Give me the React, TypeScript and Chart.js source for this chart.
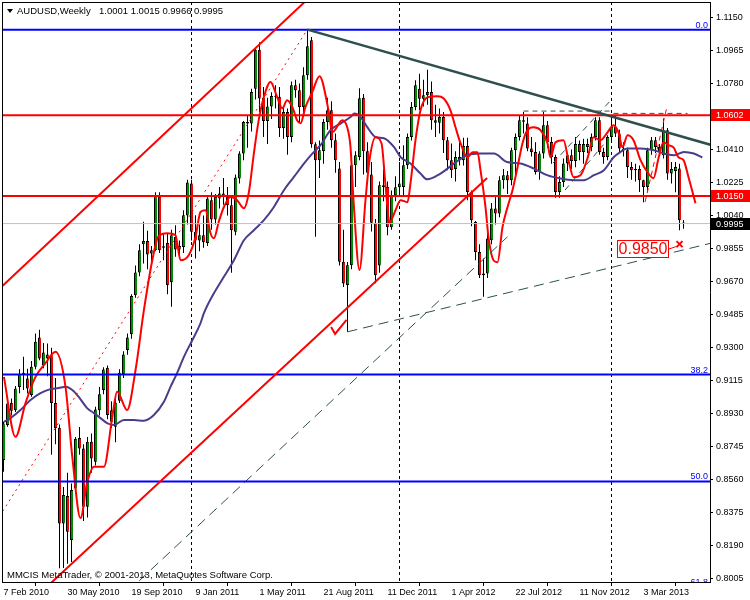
import React, { useEffect, useRef } from "react";
import { Chart, registerables } from "chart.js";

Chart.register(...registerables);

const FONT = "'Liberation Sans', Arial, Helvetica, sans-serif";

const symbolName = "AUDUSD,Weekly";
const copyrightText = "MMCIS MetaTrader, \u00A9 2001-2013, MetaQuotes Software Corp.";

// x axis: week index (0 = week of 7 Feb 2010)
const xTickWeeks = [0, 16, 32, 48, 64, 80, 96, 112, 128, 144, 160];
const xTickLabels = ["7 Feb 2010", "30 May 2010", "19 Sep 2010", "9 Jan 2011", "1 May 2011", "21 Aug 2011", "11 Dec 2011", "1 Apr 2012", "22 Jul 2012", "11 Nov 2012", "3 Mar 2013"];
const yTickValues = [0.8005, 0.8190, 0.8375, 0.8560, 0.8745, 0.8930, 0.9115, 0.9300, 0.9485, 0.9670, 0.9855, 1.0040, 1.0225, 1.0410, 1.0595, 1.0780, 1.0965, 1.1150];
const yearSeparatorWeeks = [47, 99, 152];

const X_MIN = -0.375;
const X_MAX = 176.625;
const Y_MIN = 0.79882;
const Y_MAX = 1.12357;

// weekly candles
const opens = [
  0.8671,0.8867,0.8992,0.8950,0.9080,0.9160,0.9128,0.9035,0.9193,0.9357,
  0.9203,0.9262,0.9258,0.8990,0.8852,0.8316,0.8470,0.8223,0.8512,0.8795,
  0.8736,0.8410,0.8773,0.8662,0.8950,0.9063,0.9188,0.8950,0.8857,0.9003,
  0.9152,0.9287,0.9376,0.9594,0.9721,0.9880,0.9897,0.9827,0.9846,1.0145,
  0.9868,0.9887,0.9667,0.9920,0.9850,0.9864,1.0040,1.0219,0.9949,0.9900,
  0.9930,0.9887,1.0126,1.0018,1.0135,1.0163,1.0144,1.0098,0.9949,1.0247,
  1.0387,1.0564,1.0555,1.0750,1.0969,1.0700,1.0570,1.0650,1.0710,1.0705,
  1.0530,1.0620,1.0480,1.0769,1.0741,1.0648,1.0825,1.1021,1.0439,1.0350,
  1.0402,1.0564,1.0630,1.0462,1.0303,0.9781,0.9651,0.9762,1.0322,1.0368,
  1.0700,1.0400,1.0270,0.9997,0.9760,1.0210,1.0200,0.9975,1.0153,1.0199,
  1.0200,1.0321,1.0480,1.0648,1.0750,1.0694,1.0713,1.0732,1.0573,1.0560,
  1.0592,1.0461,1.0349,1.0300,1.0368,1.0350,1.0430,1.0172,1.0004,0.9836,
  0.9706,0.9715,0.9902,1.0079,1.0051,1.0237,1.0265,1.0237,1.0405,1.0480,
  1.0573,1.0555,1.0415,1.0396,1.0284,1.0387,1.0545,1.0452,1.0368,1.0172,
  1.0228,1.0331,1.0377,1.0345,1.0440,1.0396,1.0440,1.0424,1.0480,1.0573,
  1.0396,1.0368,1.0480,1.0536,1.0499,1.0415,1.0405,1.0312,1.0293,1.0300,
  1.0237,1.0200,1.0405,1.0461,1.0424,1.0377,1.0517,1.0275,1.0290,1.0303,
  1.0001
];
const highs = [
  0.8885,0.9006,0.9016,0.9085,0.9180,0.9249,0.9182,0.9225,0.9380,0.9400,
  0.9326,0.9324,0.9300,0.9130,0.8870,0.8520,0.8600,0.8540,0.8800,0.8856,
  0.8760,0.8800,0.8820,0.8970,0.9080,0.9190,0.9200,0.9000,0.9020,0.9180,
  0.9280,0.9380,0.9600,0.9760,0.9880,1.0005,0.9955,0.9870,1.0170,1.0170,
  0.9940,0.9940,0.9960,0.9985,0.9900,1.0070,1.0240,1.0240,1.0042,0.9990,
  1.0040,1.0150,1.0170,1.0160,1.0200,1.0250,1.0200,1.0140,1.0270,1.0400,
  1.0570,1.0600,1.0750,1.0975,1.1010,1.0760,1.0700,1.0730,1.0770,1.0760,
  1.0650,1.0640,1.0790,1.0800,1.0780,1.0870,1.1077,1.1040,1.0450,1.0460,
  1.0580,1.0700,1.0680,1.0500,1.0340,0.9960,0.9780,1.0340,1.0400,1.0753,
  1.0720,1.0450,1.0340,1.0020,1.0230,1.0300,1.0230,1.0180,1.0260,1.0340,
  1.0433,1.0500,1.0676,1.0797,1.0834,1.0800,1.0856,1.0790,1.0660,1.0640,
  1.0620,1.0480,1.0443,1.0400,1.0470,1.0475,1.0475,1.0180,1.0010,0.9880,
  0.9800,0.9940,1.0110,1.0150,1.0260,1.0300,1.0290,1.0420,1.0500,1.0600,
  1.0620,1.0590,1.0480,1.0450,1.0400,1.0620,1.0570,1.0480,1.0380,1.0260,
  1.0360,1.0390,1.0410,1.0480,1.0460,1.0470,1.0470,1.0500,1.0590,1.0590,
  1.0420,1.0490,1.0605,1.0600,1.0520,1.0450,1.0420,1.0340,1.0330,1.0320,
  1.0240,1.0420,1.0480,1.0480,1.0440,1.0583,1.0530,1.0340,1.0340,1.0330,
  1.0015
];
const lows = [
  0.8606,0.8857,0.8920,0.8940,0.9045,0.9063,0.9044,0.9025,0.9180,0.9230,
  0.9185,0.9140,0.8700,0.8760,0.8065,0.8067,0.8090,0.8100,0.8480,0.8700,
  0.8330,0.8350,0.8600,0.8640,0.8920,0.9040,0.8900,0.8850,0.8770,0.8990,
  0.9130,0.9260,0.9350,0.9580,0.9700,0.9772,0.9740,0.9760,0.9840,0.9830,
  0.9790,0.9600,0.9530,0.9810,0.9800,0.9830,0.9990,0.9900,0.9800,0.9840,
  0.9860,0.9870,0.9960,0.9990,1.0080,1.0100,1.0040,0.9720,0.9930,1.0220,
  1.0350,1.0420,1.0510,1.0690,1.0620,1.0480,1.0440,1.0580,1.0640,1.0480,
  1.0470,1.0380,1.0450,1.0700,1.0560,1.0600,1.0800,1.0420,0.9921,1.0250,
  1.0330,1.0520,1.0420,1.0280,0.9760,0.9640,0.9389,0.9740,1.0200,1.0350,
  1.0270,1.0240,0.9950,0.9661,0.9720,1.0120,0.9930,0.9960,1.0120,1.0150,
  1.0144,1.0300,1.0460,1.0630,1.0630,1.0650,1.0660,1.0520,1.0480,1.0500,
  1.0390,1.0293,1.0250,1.0230,1.0320,1.0320,1.0125,0.9980,0.9790,0.9690,
  0.9585,0.9690,0.9880,0.9990,1.0030,1.0190,1.0160,1.0210,1.0260,1.0460,
  1.0500,1.0400,1.0370,1.0270,1.0240,1.0360,1.0420,1.0330,1.0140,1.0140,
  1.0200,1.0290,1.0300,1.0310,1.0350,1.0330,1.0390,1.0400,1.0460,1.0380,
  1.0330,1.0350,1.0460,1.0480,1.0390,1.0370,1.0250,1.0240,1.0230,1.0172,
  1.0115,1.0180,1.0380,1.0390,1.0370,1.0360,1.0240,1.0220,1.0170,0.9958,
  0.9966
];
const closes = [
  0.8876,0.8988,0.8947,0.9072,0.9152,0.9150,0.9072,0.9193,0.9333,0.9240,
  0.9273,0.9240,0.8990,0.8850,0.8316,0.8475,0.8270,0.8503,0.8790,0.8736,
  0.8410,0.8773,0.8680,0.8954,0.9040,0.9178,0.8923,0.8885,0.8992,0.9160,
  0.9262,0.9357,0.9589,0.9721,0.9846,0.9898,0.9822,0.9846,1.0154,0.9846,
  0.9860,0.9650,0.9930,0.9850,0.9870,1.0042,1.0225,0.9949,0.9900,0.9930,
  0.9890,1.0135,1.0018,1.0144,1.0163,1.0144,1.0098,0.9958,1.0253,1.0387,
  1.0564,1.0555,1.0732,1.0969,1.0695,1.0570,1.0650,1.0710,1.0705,1.0530,
  1.0620,1.0480,1.0769,1.0741,1.0648,1.0825,1.0988,1.0439,1.0350,1.0406,
  1.0564,1.0630,1.0462,1.0350,0.9781,0.9660,0.9762,1.0322,1.0378,1.0697,
  1.0400,1.0280,1.0000,0.9706,1.0210,1.0200,0.9975,1.0153,1.0199,1.0220,
  1.0321,1.0480,1.0648,1.0769,1.0694,1.0713,1.0732,1.0573,1.0560,1.0592,
  1.0461,1.0349,1.0293,1.0368,1.0350,1.0430,1.0172,1.0014,0.9836,0.9706,
  0.9715,0.9911,1.0079,1.0051,1.0237,1.0265,1.0237,1.0405,1.0480,1.0573,
  1.0565,1.0415,1.0396,1.0284,1.0387,1.0545,1.0452,1.0368,1.0172,1.0228,
  1.0331,1.0377,1.0345,1.0440,1.0396,1.0440,1.0424,1.0480,1.0573,1.0396,
  1.0368,1.0480,1.0536,1.0499,1.0415,1.0405,1.0312,1.0293,1.0300,1.0237,
  1.0200,1.0405,1.0461,1.0424,1.0396,1.0517,1.0275,1.0300,1.0312,1.0014,
  0.9995
];

// fast (red) smoothed average
const fastMaWeeks = [
  0.1,3,5.5,8,10.5,13,15.5,17.2,19.25,20.9,
  22.6,25.1,27.2,28.4,30.9,33,35.1,37.2,38.75,40.9,
  43,44.25,46.3,48,49.25,50.5,51.75,52.6,53.8,55.1,
  56.75,58.4,60.1,61.3,62.6,63.8,65.1,66.75,68.4,69.7,
  70.9,72.2,73.4,74.25,75.5,77.2,79,81.25,82.2,84.7,
  86,86.75,87.5,89,90.5,91.5,93,94.5,95.5,96.5,
  98,99.25,101,101.75,103,104.25,106,108.5,110,111.75,
  113,114.25,116,117.25,118.5,119.25,120.5,121.25,122.5,123.5,
  124.75,126,127.25,128.5,129.75,131,132.5,134.25,136,136.75,
  138,140,141.25,142.5,144.25,146,147.5,149.25,151,152.5,
  153.75,154.75,156,157.5,159.25,161,162.5,163.75,165,166.25,
  167.5,168.75,170,171.25,173
];
const fastMaValues = [
  0.9137,0.8801,0.8990,0.9137,0.9214,0.9277,0.9081,0.8689,0.8346,0.8542,
  0.8633,0.8633,0.8913,0.9053,0.8951,0.9174,0.9510,0.9790,0.9924,0.9941,
  0.9930,0.9790,0.9818,0.9920,1.0060,1.0070,0.9941,0.9913,1.0004,1.0088,
  1.0144,1.0126,1.0081,1.0165,1.0389,1.0574,1.0704,1.0788,1.0704,1.0641,
  1.0685,1.0648,1.0574,1.0557,1.0648,1.0732,1.0820,1.0630,1.0507,1.0574,
  1.0529,1.0423,1.0127,0.9735,1.0127,1.0350,1.0478,1.0445,1.0210,1.0003,
  1.0070,1.0126,1.0115,1.0221,1.0462,1.0629,1.0702,1.0708,1.0697,1.0629,
  1.0534,1.0445,1.0366,1.0394,1.0394,1.0294,1.0087,0.9919,0.9790,0.9779,
  0.9975,1.0087,1.0182,1.0310,1.0445,1.0518,1.0534,1.0518,1.0445,1.0366,
  1.0450,1.0462,1.0350,1.0255,1.0266,1.0361,1.0478,1.0462,1.0506,1.0546,
  1.0506,1.0422,1.0490,1.0462,1.0350,1.0283,1.0249,1.0361,1.0450,1.0434,
  1.0422,1.0366,1.0350,1.0255,1.0109
];

// slow (slate blue) average
const slowMaWeeks = [
  0.1,1.75,4.25,6.75,9.25,11.75,13.8,15.5,17.2,18.8,
  20.9,22.6,24.25,25.9,27.6,30.1,32.6,35.1,37.6,40.1,
  41.75,43.4,45.1,47.2,49.25,50.1,52.6,55.1,57.6,60.1,
  62.6,65.1,67.6,70.1,72.6,75.1,77.2,79.25,81.75,84.25,
  86.75,87.75,89.25,90.9,93,95.1,97.6,99.25,101.75,104.25,
  105.9,109.25,112.6,115.9,119.25,122.6,125.9,129.25,132.6,135.9,
  139.25,142.6,145.1,147.6,150.1,152.6,154.25,155.9,159.25,162.6,
  165.1,167.6,170.1,172.6,174.7
];
const slowMaValues = [
  0.8885,0.8906,0.8951,0.9007,0.9046,0.9068,0.9074,0.9081,0.9063,0.9025,
  0.8962,0.8934,0.8906,0.8878,0.8867,0.8895,0.8895,0.8891,0.8923,0.8997,
  0.9081,0.9158,0.9249,0.9342,0.9437,0.9493,0.9605,0.9697,0.9790,0.9902,
  0.9958,1.0014,1.0088,1.0182,1.0256,1.0331,1.0387,1.0434,1.0518,1.0555,
  1.0592,1.0611,1.0592,1.0536,1.0480,1.0473,1.0424,1.0368,1.0331,1.0275,
  1.0243,1.0275,1.0331,1.0378,1.0387,1.0387,1.0340,1.0331,1.0303,1.0266,
  1.0247,1.0238,1.0238,1.0266,1.0294,1.0368,1.0396,1.0415,1.0415,1.0406,
  1.0387,1.0378,1.0396,1.0387,1.0365
];

// chart objects (week, price)
const redLevels = [1.0602, 1.0150];
const fibLevels = [1.1081, 0.9150, 0.8551, 0.7960];
const fibLabels = ["0.0", "38.2", "50.0", "61.8"];
const bidPrice = 0.9995;
const targetPrice = 0.9850;
const targetBoxWeeks = [153.4, 166.4];
const targetCross = [169, 0.9880];

const upperChannel = [[-1, 0.9630], [80, 1.1335]];
const lowerChannel = [[10, 0.7944], [120.9, 1.0250]];
const dottedRise = [[-1, 0.8356], [75.6, 1.1069]];
const mainResistance = [[76, 1.1081], [177, 1.0435]];
const longSupport = [[31, 0.7934], [126, 0.9921]];
const lowSupport = [[86, 0.9389], [177, 0.9886]];
const channelA = [[137.4, 1.0334], [151.9, 1.0687]];
const channelB = [[140.4, 1.0183], [150, 1.0437]];
const topLineA = [[130, 1.0625], [152, 1.0625]];
const topLineB = [[152.5, 1.0612], [171, 1.0612]];
const marchRise = [[160.4, 1.0116], [165.9, 1.0653]];
const checkMark = [[81.9, 0.9416], [82.9, 0.9377], [85.75, 0.9456]];

const BULL = "#008C00";
const BEAR = "#FF0000";
const SLATE = "#2F4F4F";

const weekIndex = closes.map((_, i) => i);

const toPts = (pairs: number[][]) => pairs.map(([x, y]) => ({ x, y }));
const lineDs = (pairs: number[][], color: string, width: number, dash: number[], order: number) => ({
  type: "line" as const,
  data: toPts(pairs),
  borderColor: color,
  borderWidth: width,
  borderDash: dash,
  pointRadius: 0,
  pointHoverRadius: 0,
  fill: false,
  tension: 0,
  order,
  clip: 0,
});
const hLine = (v: number) => [[X_MIN - 2, v], [X_MAX + 2, v]];

const overlayPlugin = {
  id: "mtOverlay",
  beforeDatasetsDraw(chart: any) {
    const { ctx, chartArea: a, scales } = chart;
    const x = scales.x;
    ctx.save();
    ctx.beginPath();
    ctx.rect(a.left, a.top, a.right - a.left, a.bottom - a.top);
    ctx.clip();
    ctx.strokeStyle = "#000";
    ctx.lineWidth = 1;
    ctx.setLineDash([3, 3]);
    yearSeparatorWeeks.forEach((w) => {
      const px = Math.floor(x.getPixelForValue(w)) + 0.5;
      ctx.beginPath();
      ctx.moveTo(px, a.top);
      ctx.lineTo(px, a.bottom);
      ctx.stroke();
    });
    ctx.restore();
  },
  afterDatasetsDraw(chart: any) {
    const { ctx, chartArea: a, scales } = chart;
    const x = scales.x;
    const y = scales.y;
    ctx.save();
    ctx.beginPath();
    ctx.rect(a.left, a.top, a.right - a.left, a.bottom - a.top);
    ctx.clip();

    // fibo level captions
    ctx.font = `9px ${FONT}`;
    ctx.fillStyle = "#0000FF";
    ctx.textAlign = "right";
    ctx.textBaseline = "alphabetic";
    fibLevels.forEach((v, i) => {
      ctx.fillText(fibLabels[i], a.right - 2, Math.round(y.getPixelForValue(v)) - 2);
    });

    // target label box
    const bx0 = Math.round(x.getPixelForValue(targetBoxWeeks[0]));
    const bx1 = Math.round(x.getPixelForValue(targetBoxWeeks[1]));
    const by = Math.round(y.getPixelForValue(targetPrice));
    ctx.fillStyle = "#fff";
    ctx.fillRect(bx0, by - 9, bx1 - bx0, 18);
    ctx.strokeStyle = "#FF0000";
    ctx.lineWidth = 1;
    ctx.setLineDash([]);
    ctx.strokeRect(bx0 + 0.5, by - 8.5, bx1 - bx0 - 1, 17);
    ctx.fillStyle = "#FF0000";
    ctx.font = `16px ${FONT}`;
    ctx.textAlign = "center";
    ctx.textBaseline = "middle";
    ctx.fillText(targetPrice.toFixed(4), (bx0 + bx1) / 2, by + 1);

    // cross mark and connector
    const cx = x.getPixelForValue(targetCross[0]);
    const cy = y.getPixelForValue(targetCross[1]);
    ctx.beginPath();
    ctx.moveTo(bx1, by);
    ctx.lineTo(cx - 2, cy + 2);
    ctx.stroke();
    ctx.lineWidth = 2;
    ctx.beginPath();
    ctx.moveTo(cx - 3, cy - 3);
    ctx.lineTo(cx + 3, cy + 3);
    ctx.moveTo(cx + 3, cy - 3);
    ctx.lineTo(cx - 3, cy + 3);
    ctx.stroke();

    // copyright
    ctx.fillStyle = "#000";
    ctx.font = `9.5px ${FONT}`;
    ctx.textAlign = "left";
    ctx.textBaseline = "alphabetic";
    ctx.fillText(copyrightText, a.left + 5, a.bottom - 4);

    // title
    const last = closes.length - 1;
    ctx.beginPath();
    ctx.moveTo(a.left + 5, a.top + 7);
    ctx.lineTo(a.left + 11, a.top + 7);
    ctx.lineTo(a.left + 8, a.top + 11);
    ctx.closePath();
    ctx.fill();
    ctx.fillText(symbolName, a.left + 15, a.top + 12);
    const ohlc = [opens[last], highs[last], lows[last], closes[last]].map((v) => v.toFixed(4)).join(" ");
    ctx.fillText(ohlc, a.left + 97, a.top + 12);
    ctx.restore();
  },
  afterDraw(chart: any) {
    const { ctx, chartArea: a, scales } = chart;
    const y = scales.y;
    ctx.save();
    // frame top/left
    ctx.strokeStyle = "#000";
    ctx.lineWidth = 1;
    ctx.beginPath();
    ctx.moveTo(a.left, a.top + 0.5);
    ctx.lineTo(a.right, a.top + 0.5);
    ctx.moveTo(a.left + 0.5, a.top);
    ctx.lineTo(a.left + 0.5, a.bottom);
    ctx.stroke();
    // price boxes on the axis
    const boxes = [
      { v: redLevels[0], bg: "#FF0000" },
      { v: redLevels[1], bg: "#FF0000" },
      { v: bidPrice, bg: "#000000" },
    ];
    ctx.font = `9px ${FONT}`;
    ctx.textAlign = "left";
    ctx.textBaseline = "middle";
    boxes.forEach((b) => {
      const py = Math.round(y.getPixelForValue(b.v));
      ctx.fillStyle = b.bg;
      ctx.fillRect(a.right + 1, py - 6, 39, 12);
      ctx.fillStyle = "#fff";
      ctx.fillText(b.v.toFixed(4), a.right + 6, py + 0.5);
    });
    ctx.restore();
  },
};

export default function App() {
  const ref = useRef<HTMLCanvasElement | null>(null);

  useEffect(() => {
    if (!ref.current) return;
    const datasets: any[] = [
      {
        type: "bar",
        data: weekIndex.map((i) => ({ x: i, y: [lows[i], highs[i]] })),
        backgroundColor: "#000",
        borderWidth: 0,
        barThickness: 1,
        grouped: false,
        inflateAmount: 0,
        order: 30,
      },
      {
        type: "bar",
        data: weekIndex.map((i) => ({ x: i, y: [opens[i], closes[i]] })),
        backgroundColor: weekIndex.map((i) => (closes[i] >= opens[i] ? BULL : BEAR)),
        borderColor: "#000",
        borderWidth: { left: 1, right: 0, top: 1, bottom: 1 },
        borderSkipped: false,
        barThickness: 3,
        grouped: false,
        minBarLength: 1,
        inflateAmount: 0,
        order: 29,
      },
      {
        type: "line",
        data: slowMaWeeks.map((w, i) => ({ x: w, y: slowMaValues[i] })),
        borderColor: "#483D8B",
        borderWidth: 2,
        pointRadius: 0,
        fill: false,
        cubicInterpolationMode: "monotone",
        order: 20,
        clip: 0,
      },
      {
        type: "line",
        data: fastMaWeeks.map((w, i) => ({ x: w, y: fastMaValues[i] })),
        borderColor: "#FF0000",
        borderWidth: 2,
        pointRadius: 0,
        fill: false,
        cubicInterpolationMode: "monotone",
        order: 19,
        clip: 0,
      },
      lineDs(hLine(bidPrice), "#C0C0C0", 1, [], 12),
      lineDs(dottedRise, "#FF0000", 1, [2, 4], 11),
      lineDs(longSupport, SLATE, 1, [10, 6], 11),
      lineDs(lowSupport, SLATE, 1, [10, 6], 11),
      lineDs(channelA, SLATE, 1, [6, 5], 11),
      lineDs(channelB, SLATE, 1, [6, 5], 11),
      lineDs(topLineA, SLATE, 1, [5, 4], 11),
      lineDs(topLineB, SLATE, 1, [5, 4], 11),
      lineDs(marchRise, "#FF0000", 1, [5, 4], 11),
      ...fibLevels.map((v) => lineDs(hLine(v), "#0000FF", 2, [], 10)),
      ...redLevels.map((v) => lineDs(hLine(v), "#FF0000", 2, [], 10)),
      lineDs(upperChannel, "#FF0000", 2, [], 9),
      lineDs(lowerChannel, "#FF0000", 2, [], 9),
      lineDs(mainResistance, SLATE, 2.5, [], 9),
      lineDs(checkMark, "#FF0000", 2, [], 8),
    ];

    const chart = new Chart(ref.current, {
      type: "line",
      data: { datasets },
      options: {
        animation: false,
        responsive: false,
        events: [],
        layout: { autoPadding: false, padding: { left: 2, top: 2, right: 0, bottom: 0 } },
        plugins: { legend: { display: false }, tooltip: { enabled: false }, title: { display: false } },
        scales: {
          x: {
            type: "linear",
            min: X_MIN,
            max: X_MAX,
            offset: false,
            afterBuildTicks: (s: any) => {
              s.ticks = xTickWeeks.map((v) => ({ value: v }));
            },
            afterFit: (s: any) => {
              s.height = 18;
              s.paddingLeft = 0;
              s.paddingRight = 0;
            },
            ticks: {
              callback: (_v: any, i: number) => xTickLabels[i],
              align: "start",
              maxRotation: 0,
              minRotation: 0,
              autoSkip: false,
              padding: 1,
              color: "#000",
              font: { family: FONT, size: 9 },
            },
            grid: { drawOnChartArea: false, drawTicks: true, tickLength: 4, color: "#000" },
            border: { display: true, color: "#000", width: 1 },
          },
          y: {
            type: "linear",
            position: "right",
            min: Y_MIN,
            max: Y_MAX,
            afterBuildTicks: (s: any) => {
              s.ticks = yTickValues.map((v) => ({ value: v }));
            },
            afterFit: (s: any) => {
              s.width = 40;
              s.paddingTop = 0;
              s.paddingBottom = 0;
            },
            ticks: {
              callback: (v: any) => Number(v).toFixed(4),
              autoSkip: false,
              padding: 3,
              color: "#000",
              font: { family: FONT, size: 9 },
            },
            grid: { drawOnChartArea: false, drawTicks: true, tickLength: 3, color: "#000" },
            border: { display: true, color: "#000", width: 1 },
          },
        },
      } as any,
      plugins: [overlayPlugin],
    });
    return () => chart.destroy();
  }, []);

  return (
    <div style={{ position: "absolute", left: 0, top: 0, width: 750, height: 600, background: "#fff" }}>
      <canvas ref={ref} width={750} height={600} style={{ display: "block", width: 750, height: 600 }} />
    </div>
  );
}
